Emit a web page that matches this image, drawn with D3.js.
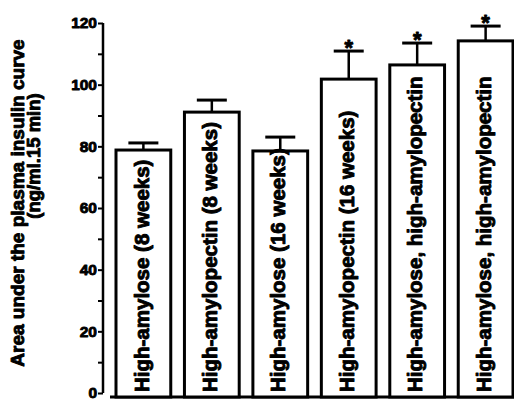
<!DOCTYPE html>
<html><head><meta charset="utf-8">
<script src="https://cdn.jsdelivr.net/npm/d3@7"></script>
<style>body{margin:0;background:#fff}svg{display:block}</style>
</head><body>
<script>
const categories = ["High-amylose (8 weeks)","High-amylopectin (8 weeks)","High-amylose (16 weeks)","High-amylopectin (16 weeks)","High-amylose, high-amylopectin","High-amylose, high-amylopectin"];
const means = [78.8, 91.1, 78.5, 101.8, 106.4, 114.2];
const errTops = [81.1, 95.0, 83.0, 110.9, 113.5, 119.0];
const significant = [false, false, false, true, true, true];
const yTicks = [0,20,40,60,80,100,120];
const yMinorTicks = [10,30,50,70,90,110];
const yTitle = ["Area under the plasma insulin curve","(ng/ml.15 min)"];

const W=514,H=400;
const svg=d3.select("body").append("svg").attr("width",W).attr("height",H);
const font="'Liberation Sans', Arial, Helvetica, sans-serif";
const heavy=sel=>sel.attr("font-family",font).attr("font-weight","bold").attr("fill","#000")
  .attr("stroke","#000").attr("stroke-width",0.9).attr("stroke-linejoin","round");
const y=d3.scaleLinear().domain([0,120]).range([393,23]);
const x=d3.scaleBand().domain(d3.range(categories.length)).range([116,513]).paddingInner(0.2).paddingOuter(0);
const baseY=397;

// y axis
const ya=svg.append("g").attr("transform","translate(103,0)")
  .call(d3.axisLeft(y).tickValues(yTicks).tickSize(5).tickPadding(1).tickFormat(d3.format("d")));
ya.select(".domain").attr("stroke","#000").attr("stroke-width",2.5).attr("d",`M0,${y(0)}V${y(120)}`);
ya.selectAll(".tick line").attr("stroke","#000").attr("stroke-width",2);
ya.selectAll(".tick text").call(heavy).attr("font-size",15.5);
svg.append("g").attr("transform","translate(103,0)")
  .call(d3.axisLeft(y).tickValues(yMinorTicks).tickSize(5).tickFormat(""))
  .call(g=>g.select(".domain").remove())
  .selectAll(".tick line").attr("stroke","#000").attr("stroke-width",2);

// baseline
svg.append("line").attr("x1",110).attr("x2",W).attr("y1",baseY).attr("y2",baseY)
  .attr("stroke","#000").attr("stroke-width",3);

// bars
const g=svg.append("g");
categories.forEach((c,i)=>{
  const bx=x(i), bw=x.bandwidth(), cx=bx+bw/2;
  g.append("line").attr("x1",cx).attr("x2",cx).attr("y1",y(means[i])).attr("y2",y(errTops[i]))
    .attr("stroke","#000").attr("stroke-width",2.5);
  g.append("line").attr("x1",cx-15).attr("x2",cx+15).attr("y1",y(errTops[i])).attr("y2",y(errTops[i]))
    .attr("stroke","#000").attr("stroke-width",3);
  g.append("rect").attr("x",bx).attr("y",y(means[i])).attr("width",bw).attr("height",baseY-y(means[i]))
    .attr("fill","#fff").attr("stroke","#000").attr("stroke-width",3);
  g.append("text").attr("transform",`translate(${cx-2},${baseY-5}) rotate(-90)`)
    .attr("dy","0.35em").call(heavy).attr("font-size",20.5).text(c);
  if(significant[i]){
    g.append("text").attr("x",cx).attr("y",y(errTops[i])+4).attr("text-anchor","middle")
      .call(heavy).attr("font-size",22).text("*");
  }
});

// y title
svg.append("text").attr("transform",`translate(17,203) rotate(-90)`).attr("text-anchor","middle").attr("dy","0.35em")
  .call(heavy).attr("font-size",19).text(yTitle[0]);
svg.append("text").attr("transform",`translate(34,156) rotate(-90)`).attr("text-anchor","middle").attr("dy","0.35em")
  .call(heavy).attr("font-size",18.5).text(yTitle[1]);
</script>
</body></html>
